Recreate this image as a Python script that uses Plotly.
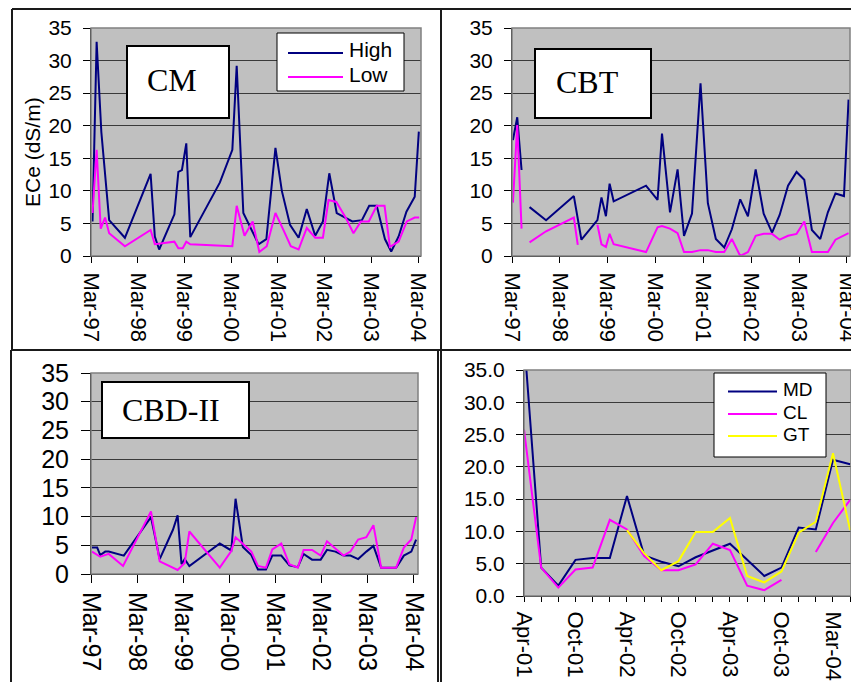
import plotly.graph_objects as go

W, H = 859, 682

# ---------------- data ----------------
year_ticks = ["1997-03-01", "1998-03-01", "1999-03-01", "2000-03-01",
              "2001-03-01", "2002-03-01", "2003-03-01", "2004-03-01"]
year_labels = ["Mar-97", "Mar-98", "Mar-99", "Mar-00", "Mar-01", "Mar-02", "Mar-03", "Mar-04"]

# CM
cm_high_dates = ["1997-03-13", "1997-04-14", "1997-05-21", "1997-07-21", "1997-11-21", "1998-06-10",
                 "1998-07-13", "1998-08-16", "1998-12-13", "1999-01-13", "1999-02-10", "1999-03-16",
                 "1999-04-16", "1999-12-04", "2000-03-10", "2000-04-13", "2000-06-04", "2000-10-01",
                 "2000-12-01", "2001-02-10", "2001-04-01", "2001-06-04", "2001-08-10", "2001-10-13",
                 "2001-12-18", "2002-02-16", "2002-04-07", "2002-06-04", "2002-10-04", "2002-12-18",
                 "2003-02-13", "2003-04-13", "2003-06-16", "2003-08-04", "2003-10-01", "2003-12-01",
                 "2004-02-04", "2004-03-07"]
cm_high = [5.3, 32.9, 19.0, 5.5, 2.8, 12.6, 3.0, 1.0, 6.4, 12.9, 13.2, 17.3, 2.9, 11.3, 16.3,
           29.2, 6.6, 1.8, 2.6, 16.6, 10.0, 4.8, 2.8, 7.2, 3.1, 5.3, 12.7, 6.6, 5.3, 5.5,
           7.7, 7.7, 2.6, 0.7, 3.0, 6.8, 9.1, 19.1]
cm_low_dates = ["1997-03-13", "1997-04-14", "1997-05-16", "1997-06-19", "1997-07-21", "1997-11-21",
                "1998-06-10", "1998-07-13", "1998-12-13", "1999-01-13", "1999-02-16", "1999-03-16",
                "1999-04-16", "2000-03-10", "2000-04-13", "2000-06-13", "2000-08-16", "2000-10-07",
                "2000-12-04", "2001-02-10", "2001-04-13", "2001-06-10", "2001-08-10", "2001-10-13",
                "2001-12-18", "2002-02-16", "2002-04-01", "2002-06-01", "2002-08-10", "2002-10-13",
                "2002-12-10", "2003-02-10", "2003-04-13", "2003-06-13", "2003-07-25", "2003-10-01",
                "2003-12-04", "2004-02-04", "2004-03-10"]
cm_low = [6.6, 16.3, 4.2, 5.9, 3.5, 1.5, 4.0, 1.8, 2.2, 1.2, 1.2, 2.2, 1.8, 1.5, 7.7, 3.1,
          5.3, 0.6, 1.5, 6.6, 4.0, 1.5, 1.0, 4.3, 2.8, 2.8, 8.6, 8.3, 6.0, 3.5, 5.3, 5.3,
          7.7, 7.7, 1.4, 2.2, 5.3, 5.9, 5.9]

# CBT
cbt_high_dates = ["1997-03-08", "1997-04-10", "1997-05-13", "1997-06-13", "1997-07-13", "1997-11-16",
                  "1998-06-16", "1998-08-13", "1998-12-13", "1999-01-13", "1999-02-16", "1999-03-16",
                  "1999-04-16", "1999-12-19", "2000-03-16", "2000-04-19", "2000-06-19", "2000-08-16",
                  "2000-10-04", "2000-12-04", "2001-02-07", "2001-04-04", "2001-06-04", "2001-08-07",
                  "2001-10-04", "2001-12-07", "2002-02-04", "2002-04-04", "2002-06-04", "2002-08-07",
                  "2002-10-04", "2002-12-07", "2003-02-10", "2003-04-10", "2003-06-07", "2003-08-10",
                  "2003-10-07", "2003-12-04", "2004-02-07", "2004-03-13"]
cbt_high = [17.8, 21.3, 13.2, None, 7.5, 5.5, 9.2, 2.5, 5.5, 9.0, 6.1, 11.1, 8.4, 10.8, 8.6,
            18.8, 6.7, 13.3, 3.1, 6.5, 26.5, 8.1, 2.6, 1.3, 4.1, 8.7, 6.1, 13.3, 6.5, 3.6,
            6.3, 10.8, 12.9, 11.7, 4.0, 2.6, 6.7, 9.6, 9.2, 24.0]
cbt_low_dates = ["1997-03-08", "1997-04-10", "1997-05-13", "1997-06-13", "1997-07-13", "1997-11-16",
                 "1998-06-16", "1998-07-16", "1998-10-01", "1998-12-13", "1999-01-13", "1999-02-16",
                 "1999-03-16", "1999-04-16", "1999-12-19", "2000-03-16", "2000-04-19", "2000-06-19",
                 "2000-08-16", "2000-10-04", "2000-12-04", "2001-02-07", "2001-04-04", "2001-06-04",
                 "2001-08-07", "2001-10-04", "2001-12-07", "2002-02-04", "2002-04-04", "2002-06-04",
                 "2002-08-07", "2002-10-04", "2002-12-07", "2003-02-10", "2003-04-10", "2003-06-07",
                 "2003-08-10", "2003-10-07", "2003-12-04", "2004-02-07", "2004-03-13"]
cbt_low = [8.2, 20.1, 4.2, None, 2.1, 3.8, 5.9, 1.7, None, 4.8, 1.8, 1.4, 3.4, 1.8, 0.6, 4.4,
           4.6, 4.2, 3.5, 0.6, 0.6, 0.9, 0.9, 0.6, 0.6, 2.6, 0.0, 0.6, 3.1, 3.4, 3.4, 2.5,
           3.1, 3.4, 5.3, 0.6, 0.6, 0.6, 2.5, 3.1, 3.5]

# CBD-II
cbd_high_dates = ["1997-03-09", "1997-04-19", "1997-05-13", "1997-06-22", "1997-07-19", "1997-11-16",
                  "1998-06-19", "1998-08-27", "1998-12-10", "1999-01-16", "1999-02-16", "1999-03-13",
                  "1999-04-19", "1999-12-16", "2000-03-16", "2000-04-19", "2000-06-16", "2000-08-22",
                  "2000-10-13", "2000-12-16", "2001-02-04", "2001-04-16", "2001-06-19", "2001-08-25",
                  "2001-10-10", "2001-12-16", "2002-02-22", "2002-04-13", "2002-06-19", "2002-08-22",
                  "2002-10-16", "2002-12-16", "2003-02-19", "2003-04-16", "2003-06-16", "2003-08-16",
                  "2003-10-13", "2003-12-13", "2004-02-10", "2004-03-19"]
cbd_high = [4.6, 4.6, 3.3, 3.9, 3.9, 3.2, 9.9, 2.6, 7.7, 10.2, 1.7, 2.6, 1.4, 5.3, 4.1, 13.1,
            4.7, 3.3, 0.8, 0.8, 3.2, 3.2, 1.5, 1.2, 3.5, 2.5, 2.5, 4.2, 3.9, 3.2, 3.2, 2.6,
            3.9, 4.9, 1.1, 1.1, 1.1, 3.2, 3.9, 6.0]
cbd_low_dates = ["1997-03-09", "1997-05-13", "1997-07-19", "1997-11-10", "1998-06-19", "1998-08-27",
                 "1999-01-16", "1999-03-13", "1999-04-19", "1999-12-16", "2000-03-16", "2000-04-19",
                 "2000-08-22", "2000-10-13", "2000-12-16", "2001-02-04", "2001-04-16", "2001-06-19",
                 "2001-08-25", "2001-10-10", "2001-12-16", "2002-02-22", "2002-04-13", "2002-06-19",
                 "2002-08-22", "2002-10-16", "2002-12-16", "2003-02-19", "2003-04-16", "2003-06-16",
                 "2003-08-16", "2003-10-13", "2003-12-13", "2004-02-10", "2004-03-19"]
cbd_low = [3.9, 3.0, 3.5, 1.4, 10.9, 2.2, 0.7, 1.9, 7.4, 1.1, 4.0, 6.4, 3.9, 1.4, 1.1, 4.3,
           5.3, 1.7, 1.1, 4.2, 4.2, 3.2, 5.7, 4.5, 3.2, 3.9, 6.0, 6.4, 8.5, 1.1, 1.1, 1.1,
           4.6, 6.0, 9.9]

# Panel 4 (MD / CL / GT)
p4_categories = ["Apr-01", "Jun-01", "Aug-01", "Oct-01", "Dec-01", "Feb-02", "Apr-02", "Jun-02",
                 "Aug-02", "Oct-02", "Dec-02", "Feb-03", "Apr-03", "Jun-03", "Aug-03", "Oct-03",
                 "Nov-03", "Jan-04", "Mar-04", "May-04"]
p4_shown_labels = ["Apr-01", "Oct-01", "Apr-02", "Oct-02", "Apr-03", "Oct-03", "Mar-04"]
md = [40.0, 4.4, 1.6, 5.6, 5.9, 5.9, 15.5, 6.3, 5.3, 4.6, 6.0, 7.1, 8.1, 5.6, 3.1, 4.4,
      10.6, 10.3, 21.1, 20.4]
cl = [25.8, 4.4, 1.3, 4.1, 4.4, 11.8, 10.3, 6.2, 4.0, 4.0, 4.9, 8.1, 7.1, 1.6, 0.9, 2.5,
      None, 6.8, 11.3, 14.9]
gt = [None, None, None, None, None, None, 10.2, 6.6, 4.0, 5.4, 9.9, 9.9, 12.1, 3.1, 2.1, 3.8,
      9.8, 11.5, 22.1, 10.2]

NAVY, MAGENTA, YELLOW = "#000080", "#FF00FF", "#FFFF00"
SANS = "Liberation Sans, Arial, sans-serif"
SERIF = "Liberation Serif, Times New Roman, serif"

# the page body adds an 8px margin around the figure; layout positions below are
# given in screenshot pixels, so shift them back by that amount
OFF = 8


def px_x(p):
    return (p - OFF) / W


def px_y(p):
    return 1 - (p - OFF) / H


fig = go.Figure()


def add_line(x, y, color, xa, ya, name):
    fig.add_trace(go.Scatter(x=x, y=y, mode="lines", name=name, showlegend=False,
                             connectgaps=False, line=dict(color=color, width=2),
                             xaxis=xa, yaxis=ya))


add_line(cm_high_dates, cm_high, NAVY, "x", "y", "High")
add_line(cm_low_dates, cm_low, MAGENTA, "x", "y", "Low")
add_line(cbt_high_dates, cbt_high, NAVY, "x2", "y2", "High")
add_line(cbt_low_dates, cbt_low, MAGENTA, "x2", "y2", "Low")
add_line(cbd_high_dates, cbd_high, NAVY, "x3", "y3", "High")
add_line(cbd_low_dates, cbd_low, MAGENTA, "x3", "y3", "Low")
add_line(p4_categories, md, NAVY, "x4", "y4", "MD")
add_line(p4_categories, cl, MAGENTA, "x4", "y4", "CL")
add_line(p4_categories, gt, YELLOW, "x4", "y4", "GT")

# plot-area rectangles in screenshot pixels: (left, top, right, bottom)
areas = {
    1: (91, 28, 421, 256),
    2: (512, 28, 850, 256),
    3: (91, 373, 418, 574),
    4: (524, 370, 851, 596),
}


def xdom(i):
    l, t, r, b = areas[i]
    return [px_x(l), px_x(r)]


def ydom(i):
    l, t, r, b = areas[i]
    return [px_y(b), px_y(t)]


def date_xaxis(i, end, fsize, standoff, ticklen):
    return dict(domain=xdom(i), type="date", range=["1997-03-01", end],
                tickmode="array", tickvals=year_ticks, ticktext=year_labels,
                tickangle=90, ticks="outside", ticklen=ticklen, tickwidth=1, tickcolor="#000",
                showline=True, linecolor="#000", linewidth=1, showgrid=False, zeroline=False,
                tickfont=dict(family=SANS, size=fsize, color="#000"), automargin=False,
                ticklabelstandoff=standoff, anchor="y" if i == 1 else "y%d" % i)


def val_yaxis(i, fsize, standoff, ticklen, fmt=None):
    d = dict(domain=ydom(i), range=[0, 35], tickmode="array",
             tickvals=[0, 5, 10, 15, 20, 25, 30, 35],
             ticks="outside", ticklen=ticklen, tickwidth=1, tickcolor="#000",
             showline=True, linecolor="#000", linewidth=1,
             showgrid=True, gridcolor="#3a3a3a", gridwidth=1, zeroline=False,
             tickfont=dict(family=SANS, size=fsize, color="#000"), automargin=False,
             ticklabelstandoff=standoff, anchor="x" if i == 1 else "x%d" % i)
    if fmt:
        d["tickformat"] = fmt
    return d


p4_ticktext = [c if c in p4_shown_labels else "" for c in p4_categories]

fig.update_layout(
    width=W, height=H, autosize=False,
    margin=dict(l=0, r=0, t=0, b=0, pad=0, autoexpand=False),
    paper_bgcolor="white", plot_bgcolor="#C0C0C0", showlegend=False,
    xaxis=date_xaxis(1, "2004-03-24", 22, 5, 6),
    yaxis=val_yaxis(1, 21, 7, 7),
    xaxis2=date_xaxis(2, "2004-03-24", 22, 5, 6),
    yaxis2=val_yaxis(2, 21, 7, 7),
    xaxis3=date_xaxis(3, "2004-04-03", 25, 4, 8),
    yaxis3=val_yaxis(3, 25, 7, 9),
    xaxis4=dict(domain=xdom(4), type="category", range=[0, 19.05],
                tickmode="array", tickvals=p4_categories, ticktext=p4_ticktext,
                tickangle=90, ticks="outside", ticklen=5, tickwidth=1, tickcolor="#000",
                showline=True, linecolor="#000", linewidth=1, showgrid=False, zeroline=False,
                tickfont=dict(family=SANS, size=22, color="#000"), automargin=False,
                ticklabelstandoff=5, anchor="y4"),
    yaxis4=val_yaxis(4, 21, 7, 7, ".1f"),
)

shapes = []
# plot-area grey borders
for i, (l, t, r, b) in areas.items():
    shapes.append(dict(type="rect", xref="paper", yref="paper",
                       x0=px_x(l), x1=px_x(r), y0=px_y(b), y1=px_y(t),
                       line=dict(color="#808080", width=1.5), fillcolor="rgba(0,0,0,0)",
                       layer="above"))
# outer frames
frame_lines = [
    (12, 8, 859, 8), (12, 8, 12, 350), (441, 8, 441, 350),
    (11, 350, 859, 350), (11, 350, 11, 682), (438, 350, 438, 682), (441, 350, 441, 682),
]
for x0, y0, x1, y1 in frame_lines:
    shapes.append(dict(type="line", xref="paper", yref="paper",
                       x0=px_x(x0), x1=px_x(x1), y0=px_y(y0 + 1 if y0 == 8 else y0),
                       y1=px_y(y1 + 1 if y1 == 8 else y1),
                       line=dict(color="#1a1a1a", width=2)))

# label boxes (CM, CBT, CBD-II)
label_boxes = [("CM", (127, 46, 229, 118), (172, 80)),
               ("CBT", (535, 49, 651, 118), (587, 82)),
               ("CBD-II", (102, 382, 249, 438), (171, 410))]
for _, (l, t, r, b), _c in label_boxes:
    shapes.append(dict(type="rect", xref="paper", yref="paper",
                       x0=px_x(l), x1=px_x(r), y0=px_y(b), y1=px_y(t),
                       line=dict(color="#000", width=2), fillcolor="white", layer="above"))

# legend boxes
legend1_box = (277, 33, 404, 91)
legend2_box = (714, 373, 826, 457)
for (l, t, r, b) in (legend1_box, legend2_box):
    shapes.append(dict(type="rect", xref="paper", yref="paper",
                       x0=px_x(l), x1=px_x(r), y0=px_y(b), y1=px_y(t),
                       line=dict(color="#000", width=1), fillcolor="white", layer="above"))

legend1 = [("High", NAVY, 53, 50), ("Low", MAGENTA, 77, 74)]
legend2 = [("MD", NAVY, 391.5, 390), ("CL", MAGENTA, 414, 412), ("GT", YELLOW, 436, 434)]
annotations = []
for name, color, ly, ty in legend1:
    shapes.append(dict(type="line", xref="paper", yref="paper",
                       x0=px_x(288), x1=px_x(343), y0=px_y(ly), y1=px_y(ly),
                       line=dict(color=color, width=2)))
    annotations.append(dict(text=name, xref="paper", yref="paper", x=px_x(348), y=px_y(ty),
                            xanchor="left", yanchor="middle", showarrow=False, borderpad=0,
                            font=dict(family=SANS, size=21, color="#000")))
for name, color, ly, ty in legend2:
    shapes.append(dict(type="line", xref="paper", yref="paper",
                       x0=px_x(728), x1=px_x(777), y0=px_y(ly), y1=px_y(ly),
                       line=dict(color=color, width=2)))
    annotations.append(dict(text=name, xref="paper", yref="paper", x=px_x(782), y=px_y(ty),
                            xanchor="left", yanchor="middle", showarrow=False, borderpad=0,
                            font=dict(family=SANS, size=19, color="#000")))

for text, _box, (cx, cy) in label_boxes:
    annotations.append(dict(text=text, xref="paper", yref="paper", x=px_x(cx), y=px_y(cy),
                            xanchor="center", yanchor="middle", showarrow=False,
                            font=dict(family=SERIF, size=32, color="#000")))

annotations.append(dict(text="ECe (dS/m)", xref="paper", yref="paper", x=px_x(32.5),
                        y=px_y(152.5), textangle=-90, xanchor="center", yanchor="middle",
                        showarrow=False, font=dict(family=SANS, size=21, color="#000")))

fig.update_layout(shapes=shapes, annotations=annotations)

fig.write_html("out.html")
